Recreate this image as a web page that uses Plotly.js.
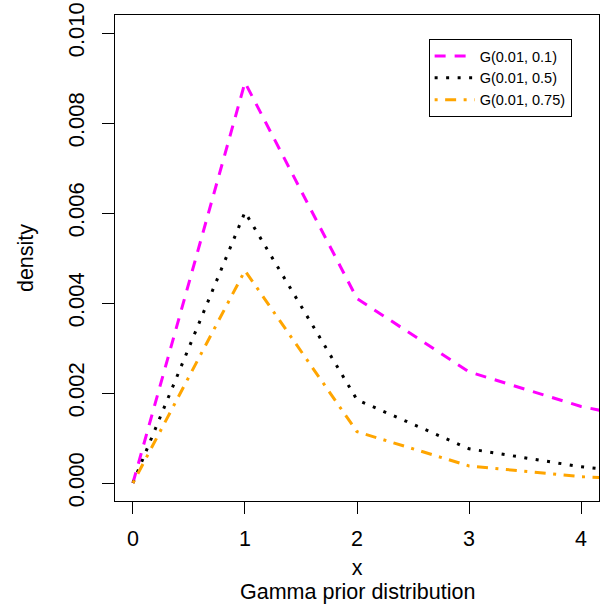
<!DOCTYPE html>
<html>
<head>
<meta charset="utf-8">
<script src="https://cdn.plot.ly/plotly-3.0.1.min.js"></script>
<style>html,body{margin:0;padding:0;background:#fff;}#chart{width:602px;height:604px;}</style>
</head>
<body>
<div id="chart"></div>
<script>
// Data
var xValues = [0, 1, 2, 3, 4, 5];
var seriesNames = ["G(0.01, 0.1)", "G(0.01, 0.5)", "G(0.01, 0.75)"];
var densityA = [0, 0.0089, 0.0041, 0.00247, 0.0017, 0.0012];
var densityB = [0, 0.00602, 0.00185, 0.00076, 0.00036, 0.0001];
var densityC = [0, 0.00472, 0.00114, 0.00038, 0.00014, 0.00003];
var xTicks = [0, 1, 2, 3, 4];
var yTicks = [0, 0.002, 0.004, 0.006, 0.008, 0.010];
var yTickText = ["0.000", "0.002", "0.004", "0.006", "0.008", "0.010"];

var FONT = "Liberation Sans, Arial, Helvetica, sans-serif";

var traces = [
  {x: xValues, y: densityA, name: seriesNames[0], mode: "lines",
   line: {color: "#FF00FF", width: 3, dash: "11px,9px"}},
  {x: xValues, y: densityB, name: seriesNames[1], mode: "lines",
   line: {color: "#000000", width: 3, dash: "3px,8.5px"}},
  {x: xValues, y: densityC, name: seriesNames[2], mode: "lines",
   line: {color: "#FFA500", width: 3, dash: "3px,7.5px,11px,7.5px"}}
];

var layout = {
  width: 602, height: 604,
  margin: {l: 115, r: 3, t: 15, b: 103, pad: 0},
  paper_bgcolor: "#ffffff", plot_bgcolor: "#ffffff",
  font: {family: FONT, color: "#000000", size: 21},
  showlegend: true,
  legend: {
    x: 0.648, y: 0.9506, xanchor: "left", yanchor: "top",
    bgcolor: "#ffffff", bordercolor: "#000000", borderwidth: 1,
    font: {family: FONT, size: 14.5, color: "#000000"},
    itemwidth: 40,
    tracegroupgap: 0
  },
  xaxis: {
    range: [-0.16, 4.16], tickvals: xTicks, ticktext: xTicks.map(String),
    ticks: "outside", ticklen: 12, tickwidth: 1, tickcolor: "#000000",
    ticklabelstandoff: 6,
    showline: true, mirror: true, linecolor: "#000000", linewidth: 1,
    showgrid: false, zeroline: false,
    tickfont: {family: FONT, size: 21.5, color: "#000000"},
    title: {text: "x", font: {family: FONT, size: 21.5, color: "#000000"}, standoff: 10}
  },
  yaxis: {
    range: [-0.0004, 0.0104], tickvals: yTicks, ticktext: yTickText,
    tickangle: -90,
    ticks: "outside", ticklen: 12, tickwidth: 1, tickcolor: "#000000",
    ticklabelstandoff: 9,
    showline: true, mirror: true, linecolor: "#000000", linewidth: 1,
    showgrid: false, zeroline: false,
    tickfont: {family: FONT, size: 22, color: "#000000"},
    title: {text: "density", font: {family: FONT, size: 21.5, color: "#000000"}, standoff: 24}
  },
  annotations: [{
    text: "Gamma prior distribution", xref: "paper", yref: "paper",
    x: 0.5, y: 0, xanchor: "center", yanchor: "middle", yshift: -91,
    showarrow: false, font: {family: FONT, size: 21.5, color: "#000000"}
  }]
};

Plotly.newPlot("chart", traces, layout, {displayModeBar: false, staticPlot: true});
</script>
</body>
</html>
